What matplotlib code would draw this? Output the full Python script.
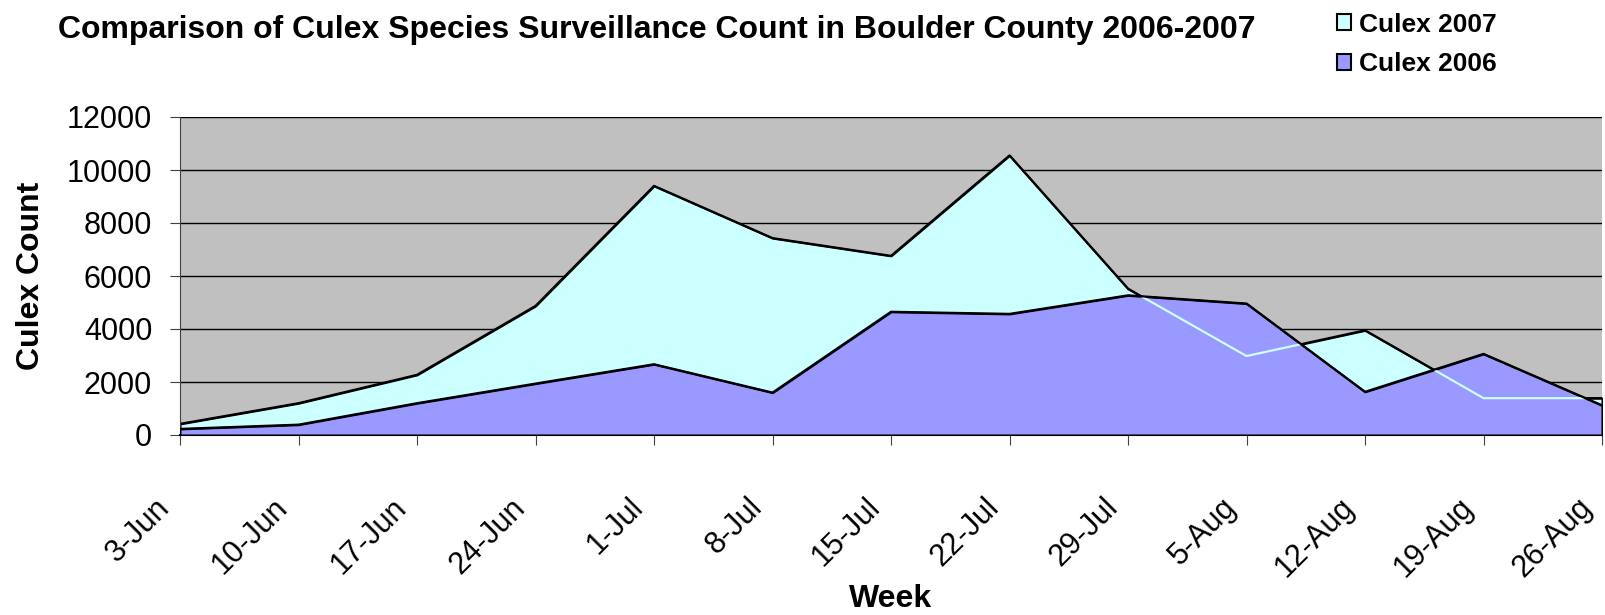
import numpy as np
import matplotlib
matplotlib.use("Agg")
import matplotlib.pyplot as plt
from matplotlib.transforms import ScaledTranslation

plt.rcParams['font.family'] = ['Liberation Sans', 'DejaVu Sans']

weeks = ['3-Jun', '10-Jun', '17-Jun', '24-Jun', '1-Jul', '8-Jul', '15-Jul',
         '22-Jul', '29-Jul', '5-Aug', '12-Aug', '19-Aug', '26-Aug']
culex_2007 = [420, 1200, 2270, 4870, 9400, 7430, 6760, 10550, 5520, 2980, 3950, 1390, 1390]
culex_2006 = [230, 390, 1200, 1940, 2670, 1600, 4650, 4570, 5270, 4960, 1630, 3060, 1120]

x = np.arange(len(weeks))

fig = plt.figure(figsize=(16.05, 6.15), dpi=100)
ax = fig.add_axes([180/1605, 1-435/615, 1422/1605, 318/615])
ax.set_facecolor('#C0C0C0')

# 2007 behind, 2006 in front
ax.fill_between(x, culex_2007, color='#CCFFFF', lw=0, zorder=2, label='Culex 2007')
ax.plot(x, culex_2007, color='black', lw=1.6, zorder=2.1)
poly = ax.fill_between(x, culex_2006, color='#9999FF', lw=0, zorder=3, label='Culex 2006')
pale, = ax.plot(x, culex_2007, color='#CCFFFF', lw=1.6, zorder=3.1)
pale.set_clip_path(poly.get_paths()[0], ax.transData)
ax.plot(x, culex_2006, color='black', lw=1.6, zorder=3.2)

ax.set_xlim(0, 12)
ax.set_ylim(0, 12000)
ax.set_yticks(range(0, 12001, 2000))
ax.yaxis.grid(True, color='black', lw=1)
ax.set_axisbelow(True)
ax.set_xticks(x)
ax.set_xticklabels(weeks, rotation=45, ha='right', va='center', rotation_mode='anchor')
ax.tick_params(axis='both', labelsize=22, length=7, color='#404040', direction='out')
ax.tick_params(axis='x', pad=42)
ax.tick_params(axis='y', pad=13)
shift = ScaledTranslation(-15/100, 0, fig.dpi_scale_trans)
for lab in ax.get_xticklabels():
    lab.set_transform(lab.get_transform() + shift)
for s in ['top', 'right']:
    ax.spines[s].set_visible(False)
ax.spines['left'].set_color('#404040')
ax.spines['bottom'].set_linewidth(1.5)

fig.text(31/1605, 1-276/615, 'Culex Count', fontsize=23, fontweight='bold',
         rotation=90, ha='center', va='center')
fig.text(891/1605, 1-599/615, 'Week', fontsize=23, fontweight='bold',
         ha='center', va='center')

fig.text(58/1605, 1-30/615, 'Comparison of Culex Species Surveillance Count in Boulder County 2006-2007',
         fontsize=23, fontweight='bold', va='center', ha='left')

handles, labels = ax.get_legend_handles_labels()
for h in handles:
    h.set_edgecolor('black')
    h.set_linewidth(1.5)
fig.legend(handles, labels, loc='upper left', bbox_to_anchor=(1326/1605, 1.0 - 2/615),
           frameon=False, prop={'size': 19, 'weight': 'bold'}, borderaxespad=0,
           handlelength=0.55, handleheight=0.55, handletextpad=0.3, labelspacing=0.6)

fig.savefig('out.png', dpi=100)
